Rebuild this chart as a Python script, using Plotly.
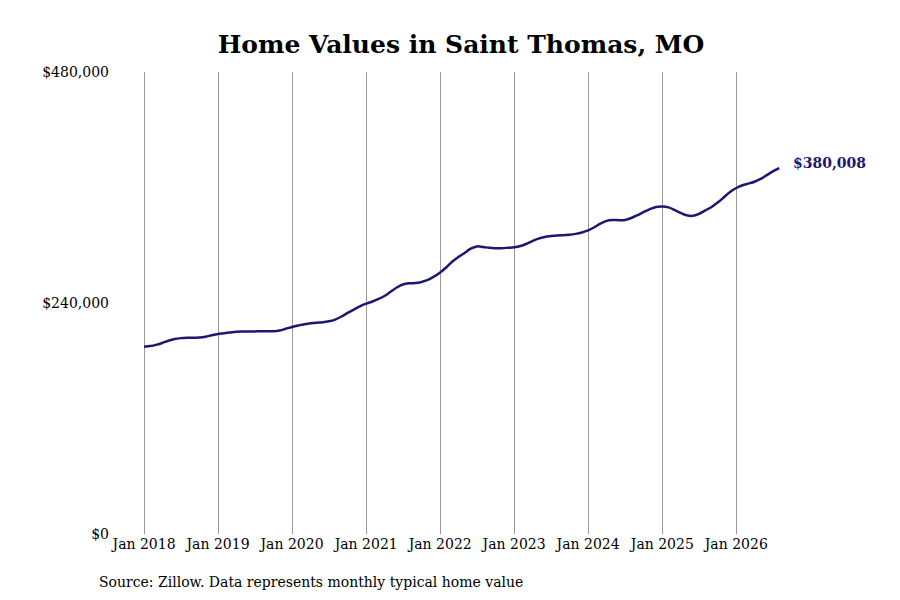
import pandas as pd
import plotly.graph_objects as go

# Valeurs mensuelles (Jan 2018 -> Aug 2026)
values_2018 = [194600, 195300, 196500, 198500, 200800, 202600, 203500, 203900, 204000, 204100, 205000, 206500]
values_2019 = [207800, 208600, 209400, 210200, 210500, 210400, 210500, 210600, 210600, 210700, 211500, 213200]
values_2020 = [215000, 216600, 218000, 218900, 219600, 220100, 221000, 222800, 226000, 229700, 233200, 236600]
values_2021 = [239400, 241600, 244000, 247300, 251600, 256100, 259200, 260500, 260700, 261900, 264000, 267400]
values_2022 = [271800, 277200, 282800, 287800, 292000, 296400, 298800, 298200, 297300, 297000, 297000, 297400]
values_2023 = [297900, 299200, 301300, 304300, 306900, 308600, 309500, 310200, 310500, 310800, 311800, 313300]
values_2024 = [315500, 318700, 322400, 325300, 326200, 326100, 326300, 328300, 331300, 334500, 337600, 339800]
values_2025 = [340300, 339300, 336800, 333700, 331100, 330600, 332600, 336200, 339800, 344300, 349900, 355300]
values_2026 = [359500, 362300, 364000, 366000, 368900, 372900, 376700, 380008]

values = (values_2018 + values_2019 + values_2020 + values_2021 + values_2022
          + values_2023 + values_2024 + values_2025 + values_2026)
dates = pd.date_range("2018-01-01", periods=len(values), freq="MS")

tick_dates = pd.date_range("2018-01-01", "2026-01-01", freq="YS")
tick_labels = [d.strftime("Jan %Y") for d in tick_dates]
y_ticks = [0, 240000, 480000]
y_labels = ["$0", "$240,000", "$480,000"]

line_color = "#1b1870"
font_family = "DejaVu Serif"

fig = go.Figure()
fig.add_trace(go.Scatter(
    x=dates, y=values,
    mode="lines",
    line=dict(color=line_color, width=2.5, shape="spline"),
    hoverinfo="x+y",
))

# Étiquette de la dernière valeur
fig.add_annotation(
    x=dates[-1], y=values[-1],
    text="<b>${:,.0f}</b>".format(values[-1]),
    showarrow=False, xanchor="left", yanchor="middle",
    xshift=12, yshift=5,
    font=dict(family=font_family, size=14, color=line_color),
)

# Source sous le graphique
fig.add_annotation(
    x=-0.019, y=-0.104, xref="paper", yref="paper",
    text="Source: Zillow. Data represents monthly typical home value",
    showarrow=False, xanchor="left", yanchor="middle",
    font=dict(family=font_family, size=14, color="#000"),
)

fig.update_layout(
    width=900, height=600,
    paper_bgcolor="white", plot_bgcolor="white",
    title=dict(
        text="<b>Home Values in Saint Thomas, MO</b>",
        x=453 / 900, xanchor="center", y=0.94, yanchor="middle",
        font=dict(family=font_family, size=25, color="#000"),
    ),
    showlegend=False,
    margin=dict(l=102, r=118, t=64, b=74),
    font=dict(family=font_family, size=14, color="#000"),
)

fig.update_xaxes(
    range=["2017-07-17", "2026-09-23"],
    tickvals=tick_dates, ticktext=tick_labels,
    showgrid=True, gridcolor="#999999", gridwidth=1,
    showline=False, zeroline=False, ticks="",
    tickfont=dict(family=font_family, size=14),
)
fig.update_yaxes(
    range=[0, 480000],
    tickvals=y_ticks, ticktext=y_labels,
    showgrid=False, zeroline=False, showline=False, ticks="",
    tickfont=dict(family=font_family, size=14),
)

fig.write_html("out.html")
